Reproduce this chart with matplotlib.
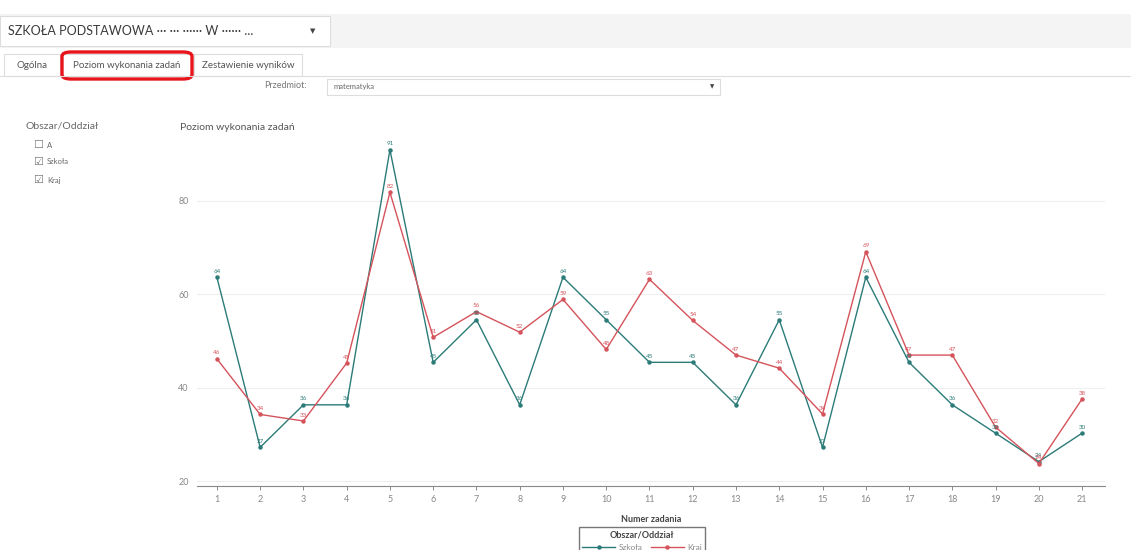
import matplotlib.pyplot as plt
from matplotlib.patches import Rectangle, FancyBboxPatch
from matplotlib.lines import Line2D

plt.rcParams["font.family"] = ["Lato", "DejaVu Sans"]

W, H = 1131, 550

zadania = list(range(1, 22))
szkola = [63.64, 27.27, 36.36, 36.36, 90.91, 45.45, 54.55, 36.36, 63.64,
          54.55, 45.45, 45.45, 36.36, 54.55, 27.27, 63.64, 45.45, 36.36,
          30.3, 24.2, 30.3]
kraj = [46.2, 34.3, 32.9, 45.3, 81.8, 50.8, 56.3, 51.9, 58.9, 48.2, 63.2,
        54.4, 47.0, 44.2, 34.4, 69.1, 47.0, 47.0, 31.6, 23.8, 37.6]
y_ticks = [20, 40, 60, 80]

TEAL = "#2b7b78"
RED = "#d5535b"
GRAY = "#777777"


def fx(x):
    return x / W


def fy(y):
    return 1 - y / H


fig = plt.figure(figsize=(W / 100, H / 100), dpi=100)

# --- header / UI chrome ---
fig.add_artist(Rectangle((fx(0), fy(48)), 1, fy(14) - fy(48),
                         transform=fig.transFigure, color="#f4f4f4", lw=0))
fig.add_artist(Rectangle((fx(0), fy(46)), fx(330), fy(16) - fy(46),
                         transform=fig.transFigure, facecolor="white",
                         edgecolor="#dddddd", lw=0.8))
fig.text(fx(8), fy(31), "SZKOŁA PODSTAWOWA ··· ··· ······ W ······ ...",
         fontsize=9, color="#3a3a3a", va="center")
fig.text(fx(313), fy(31), "▼", fontsize=5, color="#444444", va="center",
         ha="center", family="DejaVu Sans")

# tabs
fig.add_artist(Line2D([0, 1], [fy(76), fy(76)], transform=fig.transFigure,
                      color="#dddddd", lw=0.8))
for x0, x1, name in [(4, 60, "Ogólna"), (60, 194, "Poziom wykonania zadań"),
                     (194, 302, "Zestawienie wyników")]:
    fig.add_artist(Rectangle((fx(x0), fy(76)), fx(x1 - x0), fy(54) - fy(76),
                             transform=fig.transFigure, facecolor="white",
                             edgecolor="#dddddd", lw=0.8))
    fig.text(fx((x0 + x1) / 2), fy(65), name, fontsize=7, color="#555555",
             ha="center", va="center")
fig.add_artist(FancyBboxPatch((fx(62), fy(79)), fx(130), fy(52) - fy(79),
                              boxstyle="round,pad=0,rounding_size=0.008",
                              transform=fig.transFigure, facecolor="none",
                              edgecolor="#e8141c", lw=2.4))

# subject selector
fig.text(fx(307), fy(86), "Przedmiot:", fontsize=6.5, color="#777777",
         ha="right", va="center")
fig.add_artist(Rectangle((fx(327), fy(95)), fx(393), fy(79) - fy(95),
                         transform=fig.transFigure, facecolor="white",
                         edgecolor="#dddddd", lw=0.8))
fig.text(fx(333), fy(87), "matematyka", fontsize=5.5, color="#666666",
         va="center")
fig.text(fx(712), fy(87), "▼", fontsize=4, color="#444444", va="center",
         ha="center", family="DejaVu Sans")

# left filter panel
fig.text(fx(25), fy(126), "Obszar/Oddział", fontsize=7.5, color="#666666",
         va="center")
for yy, name, checked in [(145, "A", False), (162, "Szkoła", True),
                          (180, "Kraj", True)]:
    fig.text(fx(33), fy(yy), "☑" if checked else "☐", fontsize=8,
             color="#777777", va="center", family="DejaVu Sans")
    fig.text(fx(47), fy(yy), name, fontsize=5.5, color="#666666", va="center")

# chart title
fig.text(fx(180), fy(127), "Poziom wykonania zadań", fontsize=7.5,
         color="#555555", va="center")

# --- chart ---
ax = fig.add_axes([fx(197), fy(486), fx(1105) - fx(197), fy(140) - fy(486)])
ax.plot(zadania, szkola, color=TEAL, lw=1, marker="o", ms=2.2,
        label="Szkoła", zorder=3)
ax.plot(zadania, kraj, color=RED, lw=1, marker="o", ms=2.2,
        label="Kraj", zorder=3)
for xs, ys, c in [(zadania, szkola, TEAL), (zadania, kraj, RED)]:
    for x, v in zip(xs, ys):
        ax.annotate(f"{v:.0f}", (x, v), xytext=(0, 2.5),
                    textcoords="offset points", ha="center", va="bottom",
                    fontsize=4.5, color=c)

ax.set_xlim(0.54, 21.53)
ax.set_ylim(19, 93)
ax.set_xticks(zadania)
ax.set_yticks(y_ticks)
ax.tick_params(axis="x", colors=GRAY, labelsize=6.5, length=3, width=0.6,
               labelcolor="#888888")
ax.tick_params(axis="y", length=0, labelsize=6.5, labelcolor="#888888", pad=6)
for s in ["top", "right", "left"]:
    ax.spines[s].set_visible(False)
ax.spines["bottom"].set_color("#888888")
ax.spines["bottom"].set_linewidth(0.8)
ax.grid(axis="y", color="#eeeeee", lw=0.8)
ax.set_axisbelow(True)
ax.set_xlabel("Numer zadania", fontsize=6.5, fontweight="bold",
              color="#444444", labelpad=8)

leg = ax.legend(loc="upper center", bbox_to_anchor=(fx(642), fy(523)),
                bbox_transform=fig.transFigure, ncol=2,
                title="Obszar/Oddział", fontsize=6, title_fontsize=6.5,
                frameon=True, fancybox=False, edgecolor="#555555",
                handlelength=4, columnspacing=1, borderpad=0.4,
                handletextpad=0.4)
leg.get_title().set_fontweight("bold")
leg.get_title().set_color("#444444")
for t in leg.get_texts():
    t.set_color("#888888")

fig.savefig("out.png", dpi=100)
